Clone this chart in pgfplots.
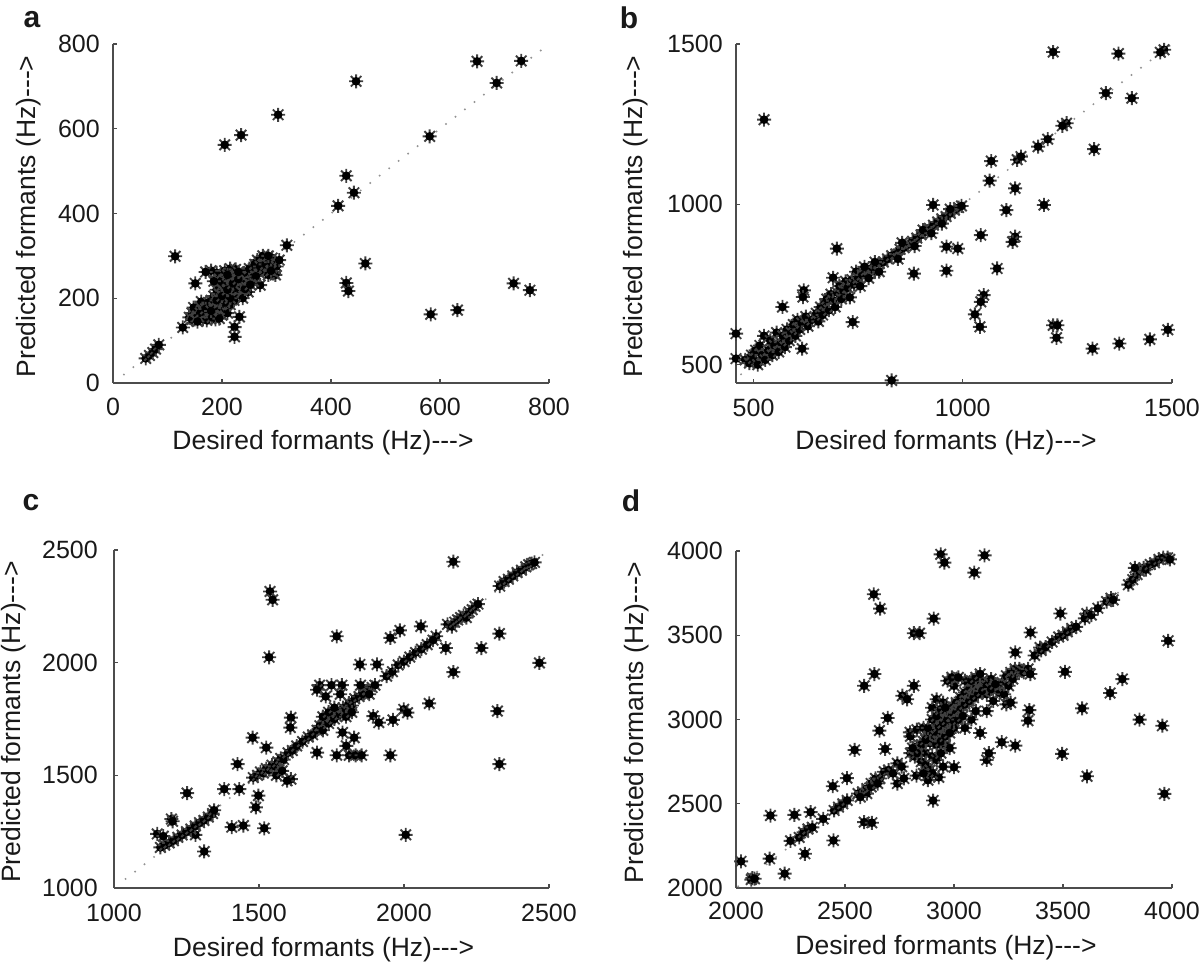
\documentclass[border=0pt]{standalone}
\usepackage{fontspec}
\setmainfont{Liberation Sans}
\usepackage{pgfplots}
\pgfplotsset{compat=1.18}
\usepackage{pgfplotstable}

\pgfdeclareplotmark{mstar}{%
  \pgfpathmoveto{\pgfqpoint{-\pgfplotmarksize}{0pt}}\pgfpathlineto{\pgfqpoint{\pgfplotmarksize}{0pt}}%
  \pgfpathmoveto{\pgfqpoint{0pt}{-\pgfplotmarksize}}\pgfpathlineto{\pgfqpoint{0pt}{\pgfplotmarksize}}%
  \pgfpathmoveto{\pgfqpoint{-0.75\pgfplotmarksize}{-0.75\pgfplotmarksize}}\pgfpathlineto{\pgfqpoint{0.75\pgfplotmarksize}{0.75\pgfplotmarksize}}%
  \pgfpathmoveto{\pgfqpoint{-0.75\pgfplotmarksize}{0.75\pgfplotmarksize}}\pgfpathlineto{\pgfqpoint{0.75\pgfplotmarksize}{-0.75\pgfplotmarksize}}%
  \pgfusepathqstroke
  \pgfpathcircle{\pgfpointorigin}{0.62\pgfplotmarksize}\pgfusepathqfill
}

\pgfplotstableread{
x y
668 759
749 760
704 708
446 712
303 633
235 585
205 562
581 582
428 489
442 449
413 418
319 325
114 299
151 235
463 282
428 236
432 217
735 235
765 219
583 162
632 172
232 156
223 132
223 109
128 131
60 58
67 65
73 72
78 80
84 90
298 255
270 231
140 155
145 165
150 150
152 172
158 160
160 180
165 150
168 168
170 185
175 158
178 175
180 195
185 165
188 150
190 182
195 170
198 190
200 160
205 178
208 200
210 165
215 185
172 148
182 155
195 152
148 178
162 192
185 205
190 220
195 210
200 230
205 215
210 240
212 205
218 225
220 250
225 210
228 235
232 220
235 255
240 230
245 245
248 215
238 200
222 195
200 250
190 260
205 265
215 270
225 268
180 265
170 262
250 255
255 265
258 240
262 275
268 260
272 285
278 270
282 290
288 280
292 295
298 285
295 260
285 255
265 290
275 300
145 150
155 158
165 172
175 190
185 178
195 195
205 190
215 200
225 225
235 240
245 255
255 250
160 165
170 175
180 170
190 195
200 205
210 220
220 235
230 245
240 260
250 270
260 280
270 275
280 280
290 285
285 300
262 252
242 222
252 232
155 145
195 240
185 240
210 255
230 262
300 275
305 290
290 265
}\dataA

\pgfplotstableread{
x y
525 1264
1216 1475
1372 1470
1481 1482
1472 1474
1342 1347
1404 1331
1248 1253
1238 1245
1203 1203
1180 1180
1314 1172
1068 1135
1130 1139
1139 1149
1064 1074
1125 1050
1194 998
1104 982
1043 904
1125 899
1119 883
961 868
988 862
961 793
1082 800
883 784
929 998
699 862
690 771
1050 717
1043 696
1029 657
1041 618
1216 623
1226 623
1224 584
1310 550
1374 566
1447 579
1490 609
830 451
458 597
458 519
737 633
616 550
620 732
618 711
569 680
480 515
490 505
495 530
500 520
505 545
510 500
515 560
520 530
525 590
528 515
535 545
540 575
545 530
550 560
555 600
560 540
565 570
570 590
575 555
580 610
585 575
590 600
595 625
600 590
605 640
610 610
615 630
625 650
630 620
640 640
650 660
655 635
660 680
665 655
670 690
675 705
680 670
685 720
690 700
695 680
700 725
705 745
710 705
715 730
720 760
725 740
730 710
735 765
740 750
745 790
750 770
755 745
760 780
770 795
780 800
790 790
800 815
810 820
820 830
830 840
840 845
850 860
860 865
870 875
880 885
890 895
900 905
910 915
920 925
930 935
940 945
950 955
960 962
970 972
980 982
990 990
997 995
775 770
765 805
800 790
845 830
855 880
885 870
905 920
925 910
950 940
970 985
790 820
}\dataB

\pgfplotstableread{
x y
2170 2448
1538 2316
1547 2279
1535 2024
1768 2117
2058 2161
1986 2143
1953 2110
2329 2129
2267 2065
2144 2065
2467 1999
2170 1958
2111 2117
2087 1819
1999 1793
2012 1778
2322 1785
2329 1550
2006 1236
1953 1589
1962 1746
1894 1763
1913 1734
1907 1992
1848 1992
1709 1900
1750 1900
1786 1900
1768 1589
1811 1589
1833 1589
1854 1589
1801 1631
1828 1667
1788 1690
1700 1601
1610 1756
1608 1712
1478 1667
1525 1623
1426 1550
1380 1439
1432 1439
1252 1421
1498 1410
1489 1358
1518 1265
1406 1270
1446 1277
1311 1162
1281 1236
1198 1306
1202 1296
1149 1240
1610 1483
1597 1476
1160 1180
1175 1190
1190 1200
1205 1210
1220 1225
1235 1235
1250 1250
1265 1262
1280 1275
1295 1290
1310 1300
1325 1315
1340 1330
1345 1345
1170 1230
1480 1490
1495 1500
1505 1515
1515 1510
1525 1530
1535 1525
1545 1545
1555 1540
1565 1560
1575 1575
1585 1570
1600 1600
1615 1610
1630 1630
1560 1500
1580 1520
1650 1650
1670 1670
1685 1680
1700 1700
1710 1720
1720 1700
1730 1740
1740 1730
1750 1760
1760 1750
1770 1780
1780 1770
1790 1800
1800 1790
1810 1820
1820 1810
1830 1840
1845 1850
1860 1860
1875 1880
1890 1890
1900 1900
1720 1760
1740 1780
1760 1800
1800 1760
1820 1780
1850 1900
1880 1860
1700 1880
1730 1850
1780 1860
1940 1940
1960 1960
1980 1990
2000 2005
2020 2025
2040 2045
2060 2060
2080 2080
2100 2100
2150 2170
2165 2160
2175 2180
2185 2190
2195 2200
2205 2210
2215 2200
2225 2225
2235 2235
2245 2250
2255 2260
2330 2340
2345 2360
2360 2370
2375 2385
2390 2400
2405 2410
2420 2425
2430 2435
2440 2440
2450 2445
}\dataC

\pgfplotstableread{
x y
2939 3980
2956 3931
3140 3974
3093 3872
2632 3743
2661 3658
2907 3599
2816 3512
2842 3512
3488 3629
3609 3629
3351 3516
3982 3467
3509 3283
3772 3240
3716 3157
3588 3066
3851 2999
3956 2963
3346 3056
3339 2993
3496 2796
3610 2663
3965 2559
2904 2519
2635 3270
2588 3200
2544 2819
2444 2604
2509 2652
2158 2430
2268 2434
2342 2450
2447 2282
2316 2203
2223 2085
2154 2174
2023 2158
2075 2059
2070 2050
2085 2055
2588 2391
2623 2387
3281 2845
3219 2865
3000 2717
2828 2667
2930 2657
3281 3398
3395 3427
2763 3141
2785 3120
2816 3200
2696 3009
2658 2934
2684 2825
2798 2924
2250 2280
2290 2300
2310 2330
2330 2350
2350 2360
2400 2410
2450 2460
2470 2480
2490 2500
2510 2520
2560 2560
2580 2570
2600 2590
2620 2620
2640 2650
2660 2650
2680 2690
2700 2700
2720 2680
2740 2740
2760 2720
2600 2560
2620 2600
2570 2540
2650 2620
2740 2620
2770 2650
2800 2800
2820 2780
2830 2840
2850 2820
2860 2870
2870 2800
2880 2900
2890 2860
2900 2940
2910 2880
2920 2960
2930 2900
2940 2990
2950 3020
2960 2950
2970 3050
2980 2990
2990 3080
3000 3030
3010 3100
3020 3060
3030 3130
3040 3080
3050 3160
3060 3110
3070 3190
3080 3140
3090 3200
3100 3160
3110 3210
3120 3170
3130 3230
3140 3190
3150 3150
2850 2750
2870 2730
2890 2700
2900 2680
2960 2850
2980 2830
3000 2950
3050 2950
3080 3000
3100 3050
3120 2920
3150 2760
3160 2800
2900 3070
2920 3120
2950 3100
3000 3200
3050 3230
2800 2900
2830 2940
2860 2950
3170 3240
3180 3110
3200 3180
3210 3160
3220 3220
3230 3150
3240 3260
3250 3200
3260 3280
3270 3240
3280 3300
3290 3280
3300 3300
3310 3290
3320 3280
3340 3300
3350 3270
3240 3090
3260 3100
3150 3050
2970 3230
2990 3250
3020 3250
2880 2640
2860 2680
3370 3380
3400 3410
3420 3430
3450 3460
3480 3490
3500 3500
3520 3520
3540 3540
3560 3550
3600 3600
3630 3620
3660 3660
3700 3700
3720 3720
3730 3710
3800 3800
3820 3830
3840 3860
3850 3880
3870 3900
3880 3890
3900 3920
3920 3930
3940 3950
3960 3960
3980 3960
3990 3950
3830 3900
2850 2850
2870 2880
2890 2920
2910 2930
2930 2960
2950 2980
2970 3000
2990 3020
3010 3040
3030 3060
3050 3090
3070 3110
3090 3130
3110 3150
3130 3170
3150 3200
2920 2850
2940 2870
2960 2900
2980 2920
3000 2990
3020 3000
3040 3020
2880 2950
2900 3000
2920 3020
2940 3060
2960 3070
3080 3230
3100 3250
3120 3270
3170 3180
3190 3210
2900 2780
2920 2760
2940 2800
2950 2720
2830 2800
2810 2830
}\dataD

\pgfplotsset{
  fpanel/.style={
    scale only axis,
    anchor=south west,
    axis x line*=bottom,
    axis y line*=left,
    axis line style={line width=1.4pt, black!70},
    tick align=inside,
    major tick length=4pt,
    tick style={line width=1.4pt, black!70},
    clip=false,
    /pgf/number format/1000 sep={},
    /pgf/number format/assume math mode=true,
    ticklabel style={font=\fontsize{25}{25}\selectfont, inner sep=0pt, text=black!90},
    label style={font=\fontsize{26.5}{26.5}\selectfont, text=black!90},
    xlabel={Desired formants (Hz)-{}-{}->},
    ylabel={Predicted formants (Hz)-{}-{}->},
    yticklabel style={anchor=east, xshift=-13pt},
  },
  dline/.style={gray!85, line width=2.2pt, line cap=round, dash pattern=on 0pt off 12pt},
  smark/.style={only marks, mark=mstar, mark size=7pt, mark options={draw=black!75, fill=black, line width=1.9pt}},
}

\begin{document}
\begin{tikzpicture}[x=1pt,y=1pt]
\path[use as bounding box] (0,0) rectangle (1200,966);

% panel a
\begin{axis}[fpanel, at={(113pt,583pt)}, width=436pt, height=339pt,
  xmin=0, xmax=800, ymin=0, ymax=800,
  xtick={0,200,400,600,800}, ytick={0,200,400,600,800},
  xticklabel style={anchor=center, yshift=-24pt},
  xlabel style={at={(axis description cs:0.5,0)}, anchor=center, yshift=-60pt, xshift=-8pt},
  ylabel style={at={(axis description cs:0,0.5)}, anchor=center, yshift=84pt, xshift=-3pt}]
\addplot[dline] coordinates {(20,20) (790,790)};
\addplot[smark] table[x=x,y=y] {\dataA};
\end{axis}

% panel b
\begin{axis}[fpanel, at={(736pt,583pt)}, width=436pt, height=339pt,
  xmin=458, xmax=1500, ymin=443, ymax=1500,
  xtick={500,1000,1500}, ytick={500,1000,1500},
  xticklabel style={anchor=center, yshift=-25pt},
  xlabel style={at={(axis description cs:0.5,0)}, anchor=center, yshift=-60pt, xshift=-8pt},
  ylabel style={at={(axis description cs:0,0.5)}, anchor=center, yshift=100pt, xshift=-3pt}]
\addplot[dline] coordinates {(470,470) (1495,1495)};
\addplot[smark] table[x=x,y=y] {\dataB};
\end{axis}

% panel c
\begin{axis}[fpanel, at={(114pt,78pt)}, width=435pt, height=338pt,
  xmin=1000, xmax=2500, ymin=1000, ymax=2500,
  xtick={1000,1500,2000,2500}, ytick={1000,1500,2000,2500},
  xticklabel style={anchor=center, yshift=-25pt},
  yticklabel style={xshift=-3pt},
  xlabel style={at={(axis description cs:0.5,0)}, anchor=center, yshift=-62pt, xshift=-8pt},
  ylabel style={at={(axis description cs:0,0.5)}, anchor=center, yshift=100pt, xshift=-3pt}]
\addplot[dline] coordinates {(1040,1040) (2490,2490)};
\addplot[smark] table[x=x,y=y] {\dataC};
\end{axis}

% panel d
\begin{axis}[fpanel, at={(736pt,78pt)}, width=436pt, height=337pt,
  xmin=2000, xmax=4000, ymin=2000, ymax=4000,
  xtick={2000,2500,3000,3500,4000}, ytick={2000,2500,3000,3500,4000},
  xticklabel style={anchor=center, yshift=-23pt},
  xlabel style={at={(axis description cs:0.5,0)}, anchor=center, yshift=-60pt, xshift=-8pt},
  ylabel style={at={(axis description cs:0,0.5)}, anchor=center, yshift=99pt, xshift=-3pt}]
\addplot[dline] coordinates {(2010,2010) (3990,3990)};
\addplot[smark] table[x=x,y=y] {\dataD};
\end{axis}

\node[font=\bfseries\fontsize{30}{30}\selectfont, text=black!90] at (32,946) {a};
\node[font=\bfseries\fontsize{30}{30}\selectfont, text=black!90] at (629,948) {b};
\node[font=\bfseries\fontsize{30}{30}\selectfont, text=black!90] at (31,463) {c};
\node[font=\bfseries\fontsize{30}{30}\selectfont, text=black!90] at (631,465) {d};
\end{tikzpicture}
\end{document}
